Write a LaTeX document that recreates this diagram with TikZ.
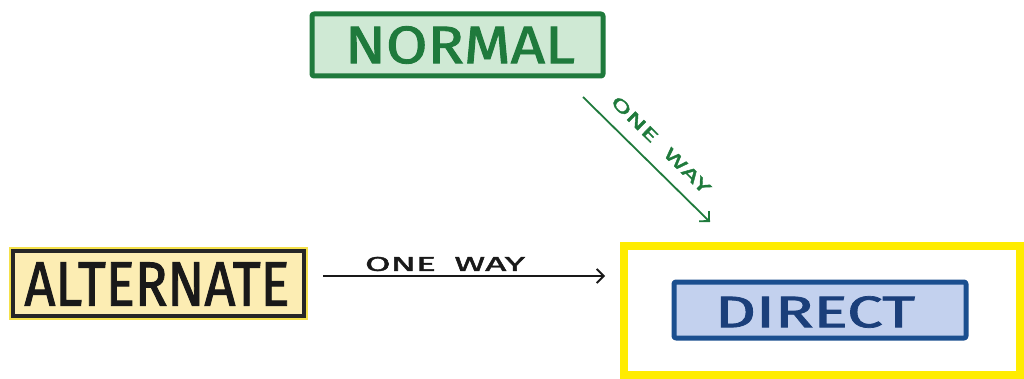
\documentclass[tikz,border=0pt]{standalone}
\usepackage{fontspec}
\setmainfont{Fira Sans}[BoldFont=Fira Sans, BoldFeatures={FakeBold=1.6}]
\usetikzlibrary{arrows.meta}
\definecolor{gborder}{HTML}{1F7A3C}
\definecolor{gfill}{HTML}{CFE9D4}
\definecolor{bborder}{HTML}{1B4F8F}
\definecolor{bfill}{HTML}{C3D1EE}
\definecolor{btext}{HTML}{1B3F7A}
\definecolor{yfill}{HTML}{FCEDB3}
\definecolor{yglow}{HTML}{F5E14A}
\definecolor{ybright}{HTML}{FFEC00}
\tikzset{
  boxshape/.style={draw, line width=5pt, rounded corners=2pt, inner sep=0pt, line join=round},
  label/.style={inner sep=0pt, anchor=center, font=\bfseries},
  flow/.style={line width=1.8pt, -{Straight Barb[length=7pt,width=14pt,line width=1.8pt]}}
}
\begin{document}
\begin{tikzpicture}[x=1pt,y=-1pt]
\useasboundingbox (0,0) rectangle (1024,379);
% outer yellow box
\node[draw=ybright, line width=8pt, fill=white, minimum width=396pt, minimum height=129pt, inner sep=0pt] (outer) at (822,310.5) {};
% NORMAL
\node[boxshape, draw=gborder, fill=gfill, minimum width=291pt, minimum height=62pt] (normal) at (457.5,45) {};
\node[label, text=gborder] (normaltxt) at (460,45) {\resizebox{230pt}{37pt}{NORMAL}};
% ALTERNATE
\node[draw=yglow, line width=8pt, minimum width=291pt, minimum height=65pt, inner sep=0pt] (altglow) at (158.5,283.5) {};
\node[draw=black!85, fill=yfill, line width=3.5pt, minimum width=291pt, minimum height=65pt, inner sep=0pt] (alt) at (158.5,283.5) {};
\node[label, text=black!90] (alttxt) at (157,284) {\resizebox{265pt}{43pt}{ALTERNATE}};
% DIRECT
\node[boxshape, draw=bborder, fill=bfill, minimum width=292pt, minimum height=56pt] (direct) at (820,310) {};
\node[label, text=btext] (directtxt) at (815,312) {\resizebox{200pt}{31pt}{DIRECT}};
% connectors
\coordinate (a1s) at (583,97);
\coordinate (a1e) at (710,222);
\draw[flow, draw=gborder] (a1s) -- (a1e);
\node[label, text=gborder, rotate=-44.5] (lab1) at (661,145) {\resizebox{132pt}{12pt}{ONE\hspace{0.5em}WAY}};
\coordinate (a2s) at (323,276);
\coordinate (a2e) at (605,276);
\draw[flow, draw=black!90] (a2s) -- (a2e);
\node[label, text=black!90] (lab2) at (445,264) {\resizebox{160pt}{14pt}{ONE\hspace{0.5em}WAY}};
\end{tikzpicture}
\end{document}
